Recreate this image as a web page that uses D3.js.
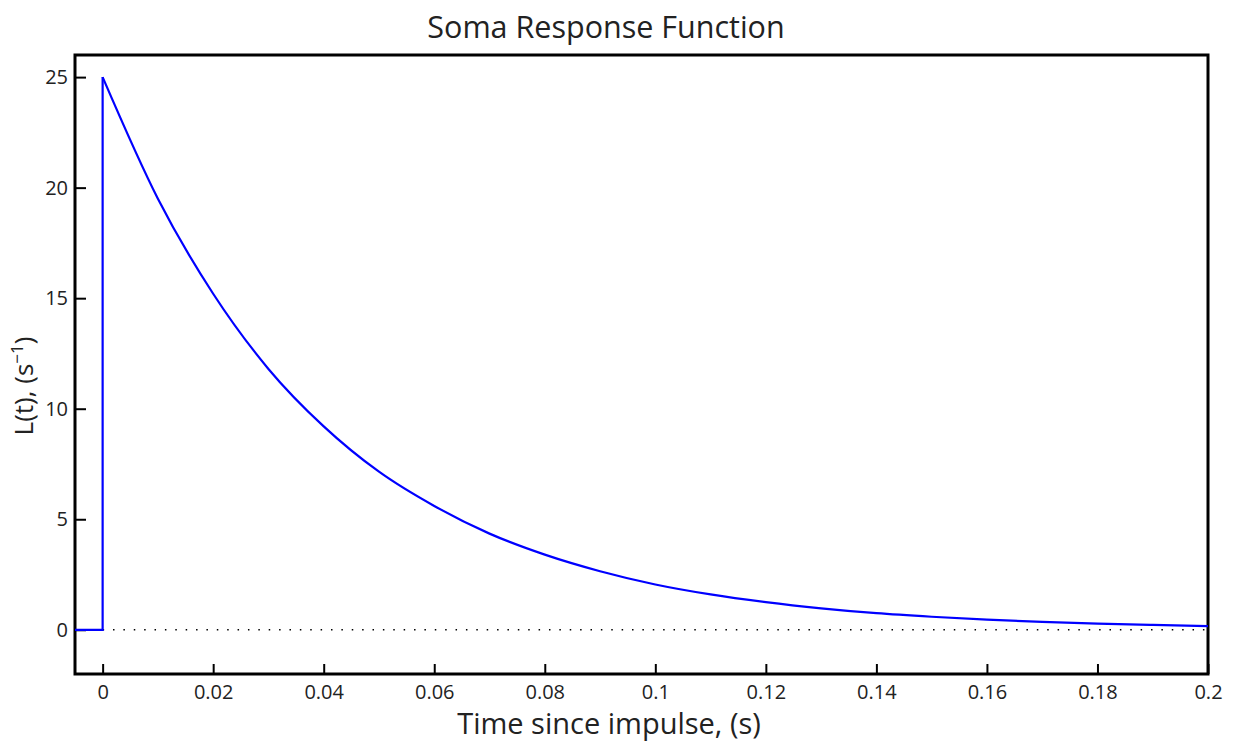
<!DOCTYPE html>
<html>
<head>
<meta charset="utf-8">
<script src="https://cdn.jsdelivr.net/npm/d3@7"></script>
<style>
  body { margin: 0; background: #fff; }
  text { font-family: "Open Sans", "Noto Sans", sans-serif; fill: #222; }
</style>
</head>
<body>
<div id="chart-area"></div>
<script>
// values
const stepTimes = [-0.005, 0, 0]
const stepValues = [0, 0, 25]
const decayTimes = [0, 0.01, 0.02, 0.03, 0.04, 0.05, 0.06, 0.07, 0.08, 0.09, 0.1,
  0.11, 0.12, 0.13, 0.14, 0.15, 0.16, 0.17, 0.18, 0.19, 0.2]
const decayValues = [25, 19.5, 15.2, 11.8, 9.2, 7.15, 5.6, 4.35, 3.4, 2.65, 2.05,
  1.6, 1.25, 0.97, 0.75, 0.59, 0.46, 0.36, 0.28, 0.22, 0.17]
const xTicks = [0, 0.02, 0.04, 0.06, 0.08, 0.1, 0.12, 0.14, 0.16, 0.18, 0.2]
const yTicks = [0, 5, 10, 15, 20, 25]

const W = 1234, H = 743
const MARGIN = { LEFT: 75, RIGHT: 26, TOP: 55, BOTTOM: 69 }
const WIDTH = W - MARGIN.LEFT - MARGIN.RIGHT
const HEIGHT = H - MARGIN.TOP - MARGIN.BOTTOM

const svg = d3.select("#chart-area").append("svg")
  .attr("width", W)
  .attr("height", H)

const g = svg.append("g")
  .attr("transform", `translate(${MARGIN.LEFT}, ${MARGIN.TOP})`)

// scales
const x = d3.scaleLinear().domain([-0.005, 0.2]).range([0, WIDTH])
const y = d3.scaleLinear().domain([-2, 26]).range([HEIGHT, 0])

// zero reference, dotted
g.append("line")
  .attr("x1", x(0)).attr("x2", x(0.2))
  .attr("y1", y(0)).attr("y2", y(0))
  .attr("stroke", "#000")
  .attr("stroke-width", 1.6)
  .attr("stroke-dasharray", "1.5,8.88")

// axes, ticks pointing inward
const xAxis = g.append("g")
  .attr("transform", `translate(0, ${HEIGHT})`)
  .call(d3.axisBottom(x).tickValues(xTicks).tickSizeInner(-10).tickSizeOuter(0)
    .tickPadding(11).tickFormat(d => d3.format("~g")(d)))
const yAxis = g.append("g")
  .call(d3.axisLeft(y).tickValues(yTicks).tickSizeInner(-11).tickSizeOuter(0)
    .tickPadding(7))

xAxis.selectAll(".tick line").attr("stroke-width", 2)
yAxis.selectAll(".tick line").attr("stroke-width", 2)
xAxis.select(".domain").remove()
yAxis.select(".domain").remove()
svg.selectAll(".tick text")
  .attr("font-size", 20)
  .attr("font-family", "Open Sans")
  .attr("fill", "#222")

// frame
g.append("rect")
  .attr("width", WIDTH)
  .attr("height", HEIGHT)
  .attr("fill", "none")
  .attr("stroke", "#000")
  .attr("stroke-width", 3)

// response curve
const line = d3.line()
  .x(d => x(d[0]))
  .y(d => y(d[1]))

g.append("path")
  .attr("fill", "none")
  .attr("stroke", "#0000ff")
  .attr("stroke-width", 2.2)
  .attr("d", line(stepTimes.map((t, i) => [t, stepValues[i]])))

g.append("path")
  .attr("fill", "none")
  .attr("stroke", "#0000ff")
  .attr("stroke-width", 2.2)
  .attr("d", line.curve(d3.curveMonotoneX)(decayTimes.map((t, i) => [t, decayValues[i]])))

// title
svg.append("text")
  .attr("x", 606)
  .attr("y", 38)
  .attr("text-anchor", "middle")
  .attr("font-size", 30.5)
  .text("Soma Response Function")

// x label
svg.append("text")
  .attr("x", 609)
  .attr("y", 734)
  .attr("text-anchor", "middle")
  .attr("font-size", 29)
  .text("Time since impulse, (s)")

// y label
const yl = svg.append("text")
  .attr("transform", "translate(33, 386) rotate(-90)")
  .attr("text-anchor", "middle")
  .attr("font-size", 26)
yl.append("tspan").text("L(t), (s")
yl.append("tspan").attr("font-size", 17).attr("dy", -10).text("\u22121")
yl.append("tspan").attr("dy", 10).text(")")
</script>
</body>
</html>
